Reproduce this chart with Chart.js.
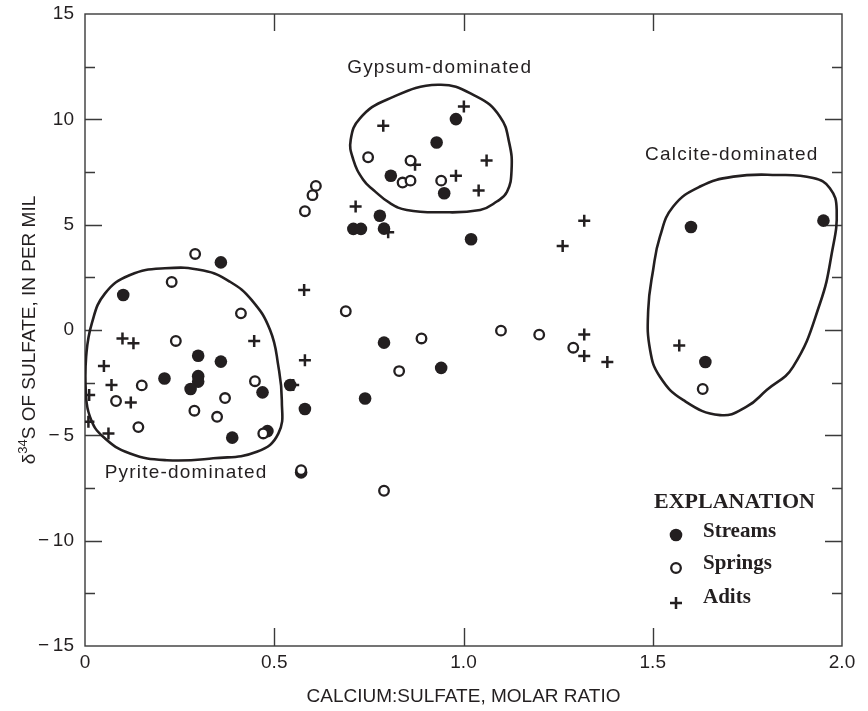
<!DOCTYPE html>
<html>
<head>
<meta charset="utf-8">
<script src="https://cdn.jsdelivr.net/npm/chart.js@4.4.1/dist/chart.umd.min.js"></script>
<style>
  html, body { margin: 0; padding: 0; background: #fff; }
  canvas { display: block; }
</style>
</head>
<body>
<canvas id="sulfateChart" width="868" height="711"></canvas>
<script>
// values (calcium:sulfate molar ratio, delta34S per mil)
const streamsX = [0.359, 0.101, 0.299, 0.359, 0.210, 0.299, 0.299, 0.279, 0.469, 0.542, 0.389, 0.482,
                  0.980, 0.929, 0.808, 0.949, 0.779, 0.709, 0.729, 0.790, 1.020, 0.790, 0.941, 0.581,
                  0.740, 0.571, 1.601, 1.951, 1.639];
const streamsY = [3.21, 1.66, -1.22, -1.50, -2.30, -2.19, -2.45, -2.80, -2.96, -2.61, -5.11, -4.80,
                  10.01, 8.90, 7.32, 6.49, 5.42, 4.80, 4.80, 4.81, 4.31, -0.60, -1.80, -3.75,
                  -3.25, -6.76, 4.89, 5.19, -1.52];

const springsX = [0.291, 0.229, 0.412, 0.240, 0.449, 0.150, 0.082, 0.370, 0.289, 0.349, 0.141, 0.471,
                  0.748, 0.860, 0.839, 0.860, 0.941, 0.610, 0.601, 0.581, 0.689, 0.889, 0.830, 1.099,
                  1.200, 1.290, 0.571, 0.790, 1.632];
const springsY = [3.61, 2.28, 0.79, -0.52, -2.43, -2.63, -3.37, -3.23, -3.83, -4.12, -4.61, -4.91,
                  8.20, 8.04, 7.00, 7.09, 7.09, 6.84, 6.40, 5.64, 0.89, -0.40, -1.95, -0.03,
                  -0.22, -0.84, -6.65, -7.63, -2.80];

const aditsX = [0.099, 0.128, 0.447, 0.050, 0.070, 0.011, 0.121, 0.009, 0.062, 0.550,
                0.788, 1.001, 0.872, 0.980, 1.061, 1.040, 0.715, 0.801, 0.579, 0.581,
                1.319, 1.262, 1.319, 1.319, 1.380, 1.570];
const aditsY = [-0.40, -0.63, -0.52, -1.71, -2.61, -3.09, -3.44, -4.35, -4.91, -2.61,
                9.69, 10.61, 7.84, 7.32, 8.04, 6.62, 5.86, 4.64, 1.90, -1.43,
                5.19, 3.99, -0.21, -1.24, -1.52, -0.74];

// outlines of the three fields
const pyriteX = [0.211, 0.119, 0.053, 0.018, 0.003, 0.002, 0.013, 0.048, 0.119, 0.216,
                 0.339, 0.454, 0.511, 0.520, 0.511, 0.489, 0.440, 0.383, 0.313];
const pyriteY = [2.93, 2.61, 1.74, 0.32, -1.27, -2.85, -4.12, -5.07, -5.86, -6.18,
                 -6.09, -5.78, -4.91, -3.33, -1.74, 0.0, 1.43, 2.29, 2.82];

const gypsumX = [0.933, 1.035, 1.096, 1.121, 1.127, 1.115, 1.088, 1.044, 0.938, 0.850,
                 0.806, 0.762, 0.735, 0.709, 0.702, 0.727, 0.797];
const gypsumY = [11.64, 11.08, 10.14, 8.87, 7.60, 6.56, 6.10, 5.70, 5.59, 5.70,
                 6.02, 6.65, 7.13, 8.08, 9.03, 10.06, 10.93];

const calciteX = [1.827, 1.924, 1.968, 1.986, 1.973, 1.942, 1.871, 1.801, 1.748, 1.678,
                  1.581, 1.519, 1.493, 1.488, 1.501, 1.519, 1.554, 1.625, 1.713];
const calciteY = [7.36, 7.21, 6.73, 5.70, 3.64, 1.27, -1.74, -2.85, -3.64, -4.04,
                  -3.33, -2.22, -0.95, 0.95, 2.85, 4.43, 5.86, 6.81, 7.28];

const fieldNames = ['Gypsum-dominated', 'Calcite-dominated', 'Pyrite-dominated'];
const fieldLabelX = [0.937, 1.709, 0.267];
const fieldLabelY = [12.45, 8.31, -6.79];

const legendNames = ['Streams', 'Springs', 'Adits'];

const ink = '#231f20';

function toPoints(xs, ys) {
    return xs.map((x, i) => ({x: x, y: ys[i]}));
}

/**
 * wraps a ring of points so the spline closes smoothly,
 * the two extra end segments are hidden
 */
function closedRing(xs, ys) {
    const pts = toPoints(xs, ys);
    const n = pts.length;
    return [pts[n - 1], ...pts, pts[0], pts[1]];
}

function outlineDataset(xs, ys) {
    const data = closedRing(xs, ys);
    const last = data.length - 1;
    return {
        type: 'line',
        data: data,
        borderColor: ink,
        borderWidth: 2.6,
        tension: 0.45,
        pointRadius: 0,
        fill: false,
        order: 10,
        segment: {
            borderColor: ctx => (ctx.p0DataIndex === 0 || ctx.p1DataIndex === last) ? 'rgba(0,0,0,0)' : ink
        }
    };
}

const axisFont = {family: 'Liberation Sans', size: 19};

const frameAndTicks = {
    id: 'frameAndTicks',
    beforeDatasetsDraw(chart) {
        const {ctx, chartArea} = chart;
        const {left, right, top, bottom} = chartArea;
        const xs = chart.scales.x;
        const ys = chart.scales.y;
        ctx.save();
        ctx.strokeStyle = '#3a3a3a';
        ctx.lineWidth = 1.4;
        ctx.strokeRect(left, top, right - left, bottom - top);
        ctx.beginPath();
        for (let v = ys.min + 2.5; v < ys.max; v += 2.5) {
            const py = Math.round(ys.getPixelForValue(v)) + 0.5;
            const len = (Math.abs(v) % 5 === 0) ? 17 : 10;
            ctx.moveTo(left, py);
            ctx.lineTo(left + len, py);
            ctx.moveTo(right, py);
            ctx.lineTo(right - len, py);
        }
        for (let v = xs.min + 0.5; v < xs.max; v += 0.5) {
            const px = Math.round(xs.getPixelForValue(v)) + 0.5;
            ctx.moveTo(px, bottom);
            ctx.lineTo(px, bottom - 18);
            ctx.moveTo(px, top);
            ctx.lineTo(px, top + 17);
        }
        ctx.stroke();
        ctx.restore();
    },
    afterDraw(chart) {
        const {ctx, chartArea} = chart;
        const xs = chart.scales.x;
        const ys = chart.scales.y;
        ctx.save();
        ctx.fillStyle = ink;

        // y axis title with superscript
        const big = '19px "Liberation Sans"';
        const small = '13px "Liberation Sans"';
        const rest = 'S OF SULFATE, IN PER MIL';
        ctx.font = big;
        const wDelta = ctx.measureText('\u03B4').width;
        const wRest = ctx.measureText(rest).width;
        ctx.font = small;
        const wSup = ctx.measureText('34').width;
        const total = wDelta + wSup + wRest;
        ctx.translate(30, (chartArea.top + chartArea.bottom) / 2);
        ctx.rotate(-Math.PI / 2);
        ctx.textBaseline = 'middle';
        ctx.textAlign = 'left';
        let cx = -total / 2;
        ctx.font = big;
        ctx.fillText('\u03B4', cx, 0);
        cx += wDelta;
        ctx.font = small;
        ctx.fillText('34', cx, -7);
        cx += wSup;
        ctx.font = big;
        ctx.fillText(rest, cx, 0);
        ctx.setTransform(1, 0, 0, 1, 0, 0);

        // field names
        ctx.font = '19px "Liberation Sans"';
        ctx.letterSpacing = '1.2px';
        ctx.textAlign = 'center';
        ctx.textBaseline = 'middle';
        for (let i = 0; i < fieldNames.length; i++) {
            ctx.fillText(fieldNames[i], xs.getPixelForValue(fieldLabelX[i]), ys.getPixelForValue(fieldLabelY[i]));
        }
        ctx.letterSpacing = '0px';

        // explanation
        const lx = chartArea.right - 188;
        const ly = chartArea.bottom - 144;
        ctx.textAlign = 'left';
        ctx.font = 'bold 22px "Liberation Serif"';
        ctx.fillText('EXPLANATION', lx, ly);
        const rowY = [ly + 30, ly + 62, ly + 96];
        const symX = lx + 22;
        ctx.font = 'bold 21px "Liberation Serif"';
        for (let i = 0; i < legendNames.length; i++) {
            ctx.fillText(legendNames[i], lx + 49, rowY[i]);
        }
        // symbols
        ctx.beginPath();
        ctx.arc(symX, rowY[0] + 3, 6.3, 0, Math.PI * 2);
        ctx.fill();
        ctx.beginPath();
        ctx.lineWidth = 2.3;
        ctx.strokeStyle = ink;
        ctx.arc(symX, rowY[1] + 4, 4.8, 0, Math.PI * 2);
        ctx.stroke();
        ctx.beginPath();
        ctx.lineWidth = 2.5;
        ctx.moveTo(symX - 6, rowY[2] + 5);
        ctx.lineTo(symX + 6, rowY[2] + 5);
        ctx.moveTo(symX, rowY[2] - 1);
        ctx.lineTo(symX, rowY[2] + 11);
        ctx.stroke();
        ctx.restore();
    }
};

const canv = document.getElementById('sulfateChart').getContext('2d');
const chart = new Chart(canv, {
    type: 'scatter',
    data: {
        datasets: [
            {
                label: legendNames[0],
                data: toPoints(streamsX, streamsY),
                pointStyle: 'circle',
                pointRadius: 6.3,
                pointBorderWidth: 0,
                backgroundColor: ink,
                borderColor: ink,
                order: 2
            },
            {
                label: legendNames[1],
                data: toPoints(springsX, springsY),
                pointStyle: 'circle',
                pointRadius: 4.8,
                pointBorderWidth: 2.3,
                backgroundColor: '#ffffff',
                borderColor: ink,
                order: 1
            },
            {
                label: legendNames[2],
                data: toPoints(aditsX, aditsY),
                pointStyle: 'cross',
                pointRadius: 6,
                pointBorderWidth: 2.5,
                backgroundColor: ink,
                borderColor: ink,
                order: 3
            },
            outlineDataset(pyriteX, pyriteY),
            outlineDataset(gypsumX, gypsumY),
            outlineDataset(calciteX, calciteY)
        ]
    },
    options: {
        responsive: false,
        devicePixelRatio: 1,
        animation: false,
        events: [],
        layout: {
            padding: {left: 0, right: 26, top: 14, bottom: 0}
        },
        plugins: {
            legend: {display: false},
            tooltip: {enabled: false}
        },
        scales: {
            x: {
                type: 'linear',
                min: 0,
                max: 2,
                afterFit: s => {
                    s.height = 65;
                    s.paddingLeft = 0;
                    s.paddingRight = 0;
                },
                grid: {display: false, drawTicks: false},
                border: {display: false},
                ticks: {
                    stepSize: 0.5,
                    padding: 5,
                    maxRotation: 0,
                    color: ink,
                    font: axisFont,
                    callback: v => v === 0 ? '0' : v.toFixed(1)
                },
                title: {
                    display: true,
                    text: 'CALCIUM:SULFATE, MOLAR RATIO',
                    color: ink,
                    font: axisFont,
                    padding: {top: 0, bottom: 3}
                }
            },
            y: {
                type: 'linear',
                min: -15,
                max: 15,
                afterFit: s => {
                    s.width = 85;
                    s.paddingTop = 0;
                    s.paddingBottom = 0;
                },
                grid: {display: false, drawTicks: false},
                border: {display: false},
                ticks: {
                    stepSize: 5,
                    padding: 11,
                    color: ink,
                    font: axisFont,
                    callback: v => v < 0 ? '\u2212\u2009' + Math.abs(v) : String(v)
                }
            }
        }
    },
    plugins: [frameAndTicks]
});
</script>
</body>
</html>
